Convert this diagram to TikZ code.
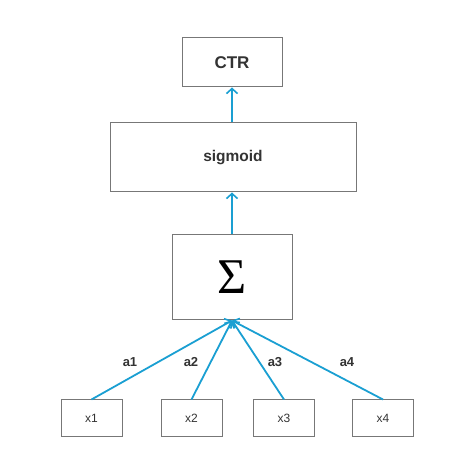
\documentclass[tikz,border=0pt]{standalone}
\usepackage{fontspec}
\setmainfont{Liberation Sans}
\newfontfamily\sigmafont{Liberation Serif}
\usetikzlibrary{arrows.meta}
\definecolor{linkblue}{HTML}{1A9FD2}
\definecolor{boxgray}{HTML}{777777}
\definecolor{txtdark}{HTML}{333333}

\begin{document}
\begin{tikzpicture}
  [x=1pt,y=-1pt,
   box/.style={draw=boxgray,line width=1pt,rectangle,inner sep=0pt,text=txtdark},
   inbox/.style={box,minimum width=61pt,minimum height=37pt,font=\fontsize{12}{12}\selectfont},
   wlabel/.style={inner sep=0pt,text=txtdark,font=\bfseries\fontsize{13}{13}\selectfont},
   link/.style={draw=linkblue,line width=1.8pt,-{Straight Barb[length=5pt,width=11pt,line width=1.6pt]}}]
  \useasboundingbox (0,0) rectangle (464,462);

  \node[box,minimum width=100pt,minimum height=49pt,font=\bfseries\fontsize{17}{17}\selectfont] (ctr) at (232,62.5) {CTR};
  \node[box,minimum width=246pt,minimum height=69pt,font=\bfseries\fontsize{15.5}{15.5}\selectfont] (sig) at (233,157.5) {sigmoid};
  \node[box,minimum width=120pt,minimum height=85pt,text=black,font=\sigmafont\fontsize{50}{50}\selectfont] (sum) at (232,277.5) {Σ};

  \node[inbox] (x1) at (91.5,418.5) {x1};
  \node[inbox] (x2) at (191.5,418.5) {x2};
  \node[inbox] (x3) at (284,418.5) {x3};
  \node[inbox] (x4) at (383,418.5) {x4};

  \node[wlabel] (a1) at (130,362) {a1};
  \node[wlabel] (a2) at (191,362) {a2};
  \node[wlabel] (a3) at (275,362) {a3};
  \node[wlabel] (a4) at (347,362) {a4};

  \foreach \i in {1,...,4}
    \draw[link] (x\i.north) -- (sum.south);
  \draw[link] (sum.north) -- (sum.north |- sig.south);
  \draw[link] (sum.north |- sig.north) -- (sum.north |- ctr.south);

\end{tikzpicture}
\end{document}
